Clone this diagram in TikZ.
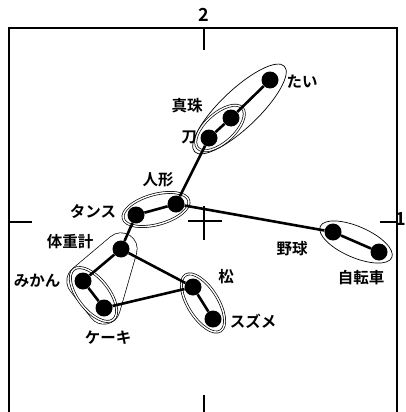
\documentclass[tikz,border=0pt]{standalone}
\usepackage{fontspec}
\newfontfamily\jp{Noto Sans CJK JP}[BoldFont={Noto Sans CJK JP Bold}]
\usetikzlibrary{shapes.geometric}
\tikzset{
  dot/.style={circle, fill=black, minimum size=17pt, inner sep=0pt},
  edge/.style={line width=2.6pt},
  encl/.style={ellipse, draw, line width=0.7pt, inner sep=0pt},
  dencl/.style={encl, double, double distance=1.4pt},
  lab/.style={font=\jp\bfseries\fontsize{15.5}{15.5}\selectfont, inner sep=0pt},
  axlab/.style={font=\jp\bfseries\fontsize{18}{18}\selectfont, inner sep=0pt},
  axis/.style={line width=1.6pt},
}
\begin{document}
\begin{tikzpicture}[x=1pt,y=-1pt]
\useasboundingbox (0,0) rectangle (406,412);
% frame and axes
\draw[axis] (9,412) -- (9,28) -- (397,28) -- (397,412);
\draw[axis] (204,28) -- (204,50);
\draw[axis] (204,395) -- (204,412);
\draw[axis] (9,222) -- (32,222);
\draw[axis] (380,222) -- (397,222);
\draw[line width=1.3pt] (188,221) -- (222,221);
\draw[line width=1.3pt] (204,206) -- (204,240);
\node[axlab] (ax2) at (204,15) {2};
\node[axlab, anchor=east] (ax1) at (406,219) {1};
% positions
\coordinate (p-tai) at (270,80);
\coordinate (p-sj) at (231,118);
\coordinate (p-kt) at (209,138);
\coordinate (p-ng) at (176,204);
\coordinate (p-ts) at (136,215);
\coordinate (p-tj) at (121,249);
\coordinate (p-mk) at (83,281);
\coordinate (p-ck) at (104,308);
\coordinate (p-mt) at (193,287);
\coordinate (p-sz) at (213,319);
\coordinate (p-yk) at (333,232);
\coordinate (p-jt) at (379,252);
% hull around 体重計, みかん, ケーキ
\draw[line width=33pt, line join=round, fill=black] (p-tj) -- (p-mk) -- (p-ck) -- cycle;
\draw[line width=31.6pt, line join=round, draw=white, fill=white] (p-tj) -- (p-mk) -- (p-ck) -- cycle;
% enclosures
\node[encl, minimum width=124pt, minimum height=38pt, rotate=43.6] (e-big) at (239.5,109) {};
\node[dencl, minimum width=60pt, minimum height=29pt, rotate=42] (e-sk) at (220,128) {};
\node[dencl, minimum width=68pt, minimum height=30pt, rotate=15.4] (e-tn) at (156,209.5) {};
\node[encl, minimum width=78pt, minimum height=31pt, rotate=-23.5] (e-yj) at (356,242) {};
\node[dencl, minimum width=64pt, minimum height=31pt, rotate=-52] (e-mc) at (93.5,294.5) {};
\node[dencl, minimum width=66pt, minimum height=30pt, rotate=-58] (e-ms) at (203,303) {};
% dots
\foreach \n in {tai,sj,kt,ng,ts,tj,mk,ck,mt,sz,yk,jt}
  \node[dot] (\n) at (p-\n) {};
% edges
\draw[edge] (tai) -- (sj);
\draw[edge] (sj) -- (kt);
\draw[edge] (kt) -- (ng);
\draw[edge] (ng) -- (ts);
\draw[edge] (ng) -- (yk);
\draw[edge] (yk) -- (jt);
\draw[edge] (ts) -- (tj);
\draw[edge] (tj) -- (mk);
\draw[edge] (mk) -- (ck);
\draw[edge] (tj) -- (mt);
\draw[edge] (ck) -- (mt);
\draw[edge] (mt) -- (sz);
% labels
\node[lab] (l-tai) at (302,82) {たい};
\node[lab] (l-sj) at (187,106) {真珠};
\node[lab] (l-kt) at (189,137) {刀};
\node[lab] (l-ng) at (158,180) {人形};
\node[lab] (l-ts) at (93,212) {タンス};
\node[lab] (l-tj) at (70,242) {体重計};
\node[lab] (l-mk) at (37,281) {みかん};
\node[lab] (l-ck) at (108,338) {ケーキ};
\node[lab] (l-mt) at (226,277) {松};
\node[lab] (l-sz) at (253,321) {スズメ};
\node[lab] (l-yk) at (292,249) {野球};
\node[lab] (l-jt) at (361,278) {自転車};
\end{tikzpicture}
\end{document}
